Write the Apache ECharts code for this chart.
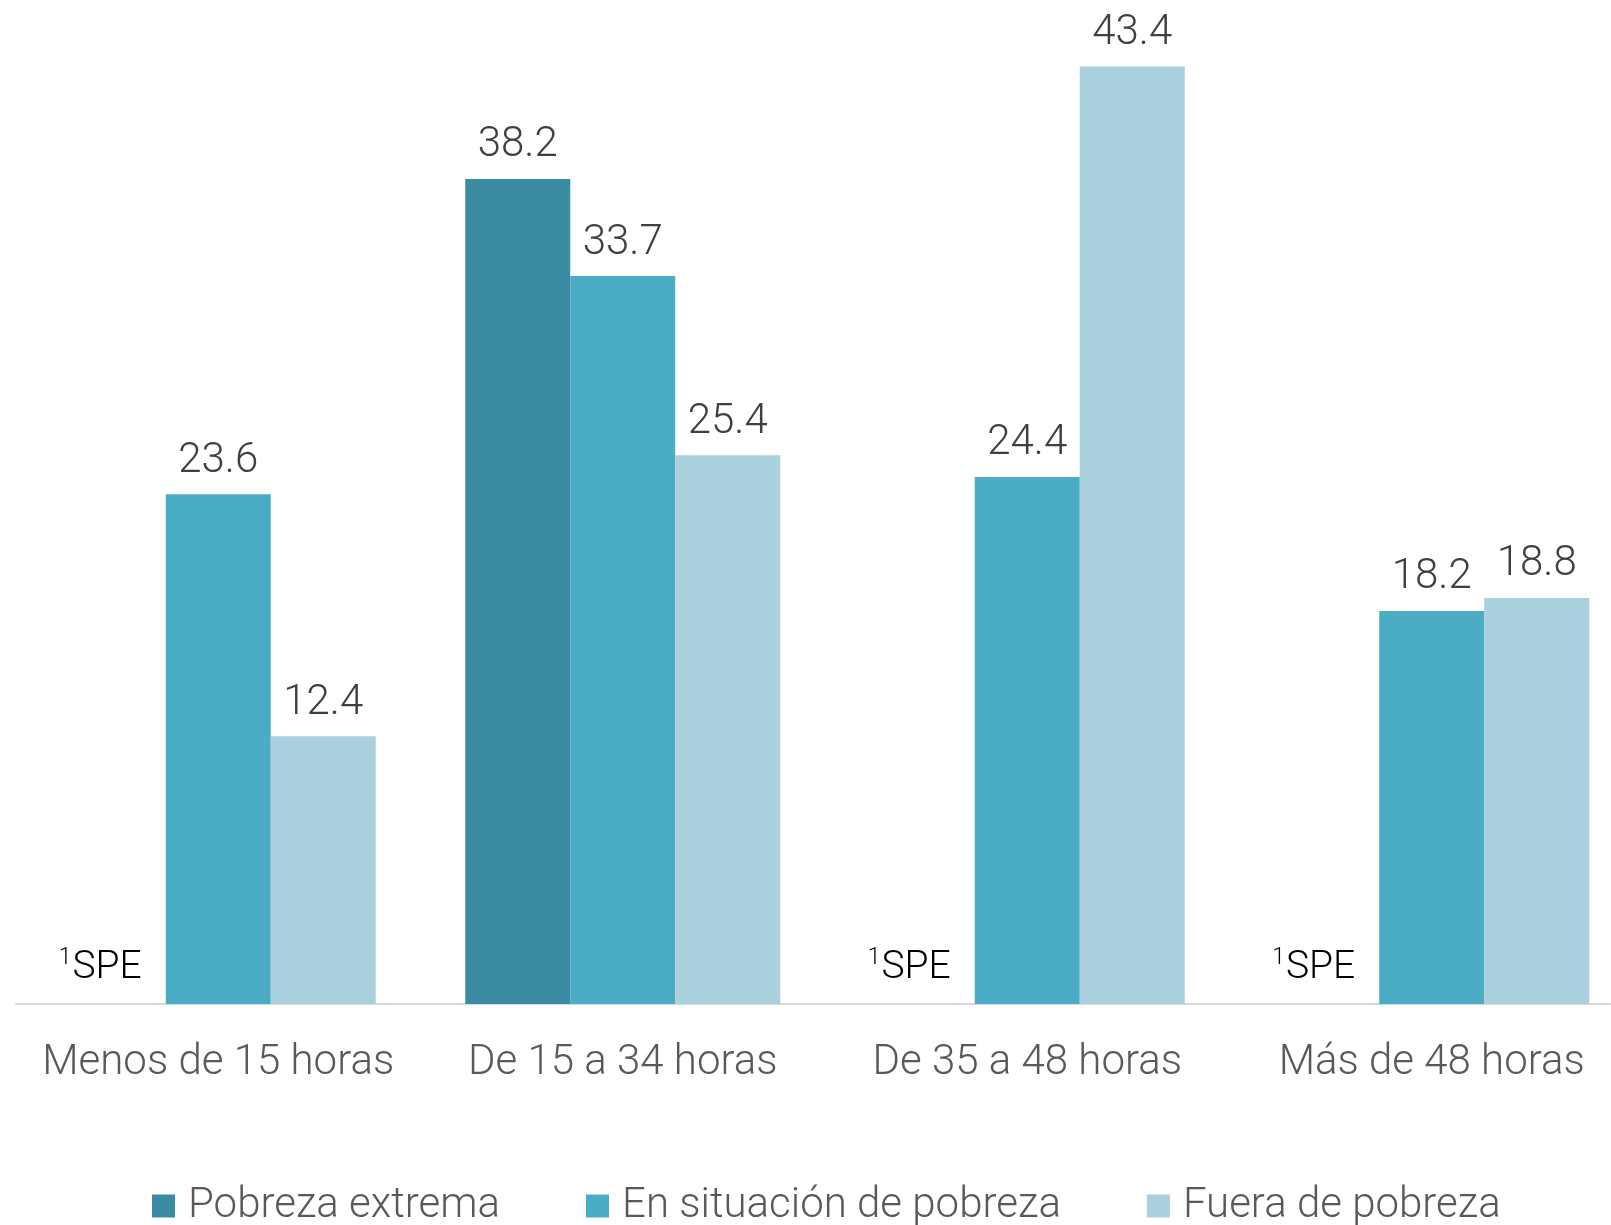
<!DOCTYPE html>
<html>
<head>
<meta charset="utf-8">
<script src="https://cdn.jsdelivr.net/npm/echarts@6/dist/echarts.min.js"></script>
<style>
    html, body {margin: 0; padding: 0; background: #fff;}
    #main {width: 1611px; height: 1225px;}
</style>
</head>
<body>
<div id="main"></div>
<script>
var categories = ['Menos de 15 horas', 'De 15 a 34 horas', 'De 35 a 48 horas', 'Más de 48 horas'];
var seriesNames = ['Pobreza extrema', 'En situación de pobreza', 'Fuera de pobreza'];
// null = sin dato (SPE)
var pobrezaExtrema = [null, 38.2, null, null];
var enSituacion = [23.6, 33.7, 24.4, 18.2];
var fueraPobreza = [12.4, 25.4, 43.4, 18.8];
var colors = ['#3b8ca3', '#4bacc6', '#aacfdd'];

var font = 'Roboto, "Liberation Sans", sans-serif';

function extremaData() {
    var out = [];
    for (var i = 0; i < pobrezaExtrema.length; i++) {
        if (pobrezaExtrema[i] === null) {
            out.push({
                value: 0,
                label: {
                    show: true,
                    position: 'top',
                    distance: 15,
                    offset: [-13, 0],
                    formatter: '{a|1}{b|SPE}',
                    rich: {
                        a: {fontSize: 23, color: '#000', fontFamily: font, fontWeight: 300, verticalAlign: 'top', lineHeight: 42, padding: [0, 1, 0, 0]},
                        b: {fontSize: 39, color: '#000', fontFamily: font, fontWeight: 300, lineHeight: 42}
                    }
                }
            });
        } else {
            out.push(pobrezaExtrema[i]);
        }
    }
    return out;
}

var valueLabel = {
    show: true,
    position: 'top',
    distance: 12,
    color: '#404040',
    fontSize: 42,
    fontFamily: font,
    fontWeight: 300
};

var myChart = echarts.init(document.getElementById('main'));
var option = {
    animation: false,
    color: colors,
    grid: {left: 16, top: 32, width: 1618, height: 972, containLabel: false, outerBoundsMode: 'none'},
    legend: {
        left: 152,
        top: 1185,
        padding: 0,
        itemWidth: 23,
        itemHeight: 23,
        itemGap: 86,
        icon: 'rect',
        textStyle: {fontSize: 42, color: '#595959', fontFamily: font, fontWeight: 300, padding: [0, 0, 0, 8]},
        data: seriesNames
    },
    xAxis: {
        type: 'category',
        data: categories,
        axisLine: {lineStyle: {color: '#d9d9d9', width: 2}},
        axisTick: {show: false},
        axisLabel: {interval: 0, margin: 38, fontSize: 42, color: '#595959', fontFamily: font, fontWeight: 300}
    },
    yAxis: {
        type: 'value',
        min: 0,
        max: 45,
        show: false,
        splitLine: {show: false}
    },
    series: [
        {
            name: seriesNames[0],
            type: 'bar',
            barWidth: 105,
            barGap: '0%',
            data: extremaData(),
            label: valueLabel
        },
        {
            name: seriesNames[1],
            type: 'bar',
            barWidth: 105,
            barGap: '0%',
            data: enSituacion,
            label: valueLabel
        },
        {
            name: seriesNames[2],
            type: 'bar',
            barWidth: 105,
            barGap: '0%',
            data: fueraPobreza,
            label: valueLabel
        }
    ]
};
myChart.setOption(option);
</script>
</body>
</html>
